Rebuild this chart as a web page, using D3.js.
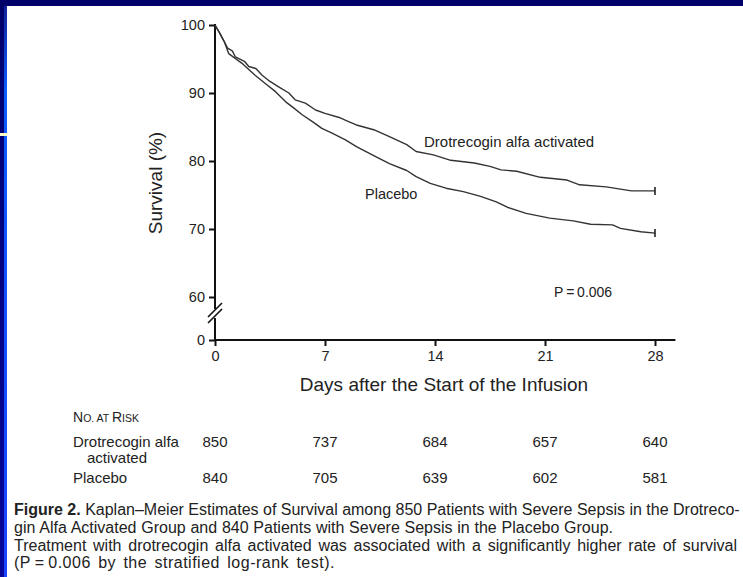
<!DOCTYPE html>
<html>
<head>
<meta charset="utf-8">
<script src="https://cdn.jsdelivr.net/npm/d3@7"></script>
<style>
body{margin:0;background:#fff;}
svg{display:block;font-family:"Liberation Sans",Arial,Helvetica,sans-serif;}
</style>
</head>
<body>
<div class="c-svg"></div>
<script>
//DATA
//-------------------------------------------------------------------------

//drotrecogin alfa activated (day, survival %)
const drotDays = [0, 0.3, 0.6, 0.8, 1.1, 1.3, 1.9, 2.15, 2.6, 3.0, 3.5, 4.05, 4.7, 5.1, 5.75, 6.4, 7.0, 7.9, 8.5, 9.0, 10.1, 11.1, 12.2, 12.8, 13.9, 15.0, 16.5, 17.5, 18.2, 19.2, 20.7, 22.4, 23.2, 24.9, 26.5, 28];
const drotSurv = [100, 98.8, 97.5, 96.6, 96.2, 95.3, 94.6, 93.9, 93.6, 92.6, 91.7, 90.9, 90.0, 89.0, 88.5, 87.5, 87.0, 86.4, 85.8, 85.3, 84.6, 83.6, 82.4, 81.4, 80.9, 80.1, 79.7, 79.2, 78.7, 78.5, 77.6, 77.2, 76.5, 76.2, 75.6, 75.6];

//placebo (day, survival %)
const placDays = [0, 0.3, 0.6, 0.87, 1.7, 2.55, 3.2, 3.85, 4.5, 4.9, 5.55, 6.2, 6.8, 7.45, 8.3, 9.0, 10.1, 11.1, 12.2, 12.8, 13.7, 14.7, 15.8, 16.9, 17.9, 18.6, 19.8, 21.3, 22.8, 23.9, 25.3, 25.8, 27.1, 28];
const placSurv = [100, 98.8, 97.5, 95.8, 94.4, 92.6, 91.4, 90.2, 88.7, 88.0, 86.8, 85.8, 84.8, 84.1, 83.1, 82.1, 80.8, 79.6, 78.6, 77.7, 76.7, 76.0, 75.5, 74.8, 74.0, 73.2, 72.3, 71.6, 71.2, 70.7, 70.6, 70.1, 69.6, 69.4];

//ticks
const xTicks = [0, 7, 14, 21, 28];
const yTicks = [0, 60, 70, 80, 90, 100];

//number at risk
const riskDrot = [850, 737, 684, 657, 640];
const riskPlac = [840, 705, 639, 602, 581];

//caption
const captionBold = "Figure 2.";
const captionLine1 = " Kaplan\u2013Meier Estimates of Survival among 850 Patients with Severe Sepsis in the Drotreco-";
const captionLine2 = "gin Alfa Activated Group and 840 Patients with Severe Sepsis in the Placebo Group.";
const captionLine3 = "Treatment with drotrecogin alfa activated was associated with a significantly higher rate of survival";
const captionLine4 = "(P\u2009=\u20090.006 by the stratified log-rank test).";


//INITIALISATION
//-------------------------------------------------------------------------

const opts = {
	width: 743,
	height: 577
};

const ink = "#222";

const svg = d3.select(".c-svg")
	.append("svg")
	.attr("width", opts.width)
	.attr("height", opts.height);

//slide frame
const defs = svg.append("defs");
const gNavy = defs.append("linearGradient").attr("id", "gNavy").attr("x1", 0).attr("y1", 0).attr("x2", 0).attr("y2", 1);
gNavy.append("stop").attr("offset", 0).attr("stop-color", "#00006a");
gNavy.append("stop").attr("offset", 1).attr("stop-color", "#06069a");
const gBlue = defs.append("linearGradient").attr("id", "gBlue").attr("x1", 0).attr("y1", 0).attr("x2", 0).attr("y2", 1);
gBlue.append("stop").attr("offset", 0).attr("stop-color", "#12229a");
gBlue.append("stop").attr("offset", 0.15).attr("stop-color", "#0c5cff");
gBlue.append("stop").attr("offset", 1).attr("stop-color", "#1a44ff");

svg.append("rect").attr("width", opts.width).attr("height", opts.height).attr("fill", "#fff");
svg.append("rect").attr("width", opts.width).attr("height", 6).attr("fill", "#00006a");
svg.append("rect").attr("width", 4).attr("height", opts.height).attr("fill", "url(#gNavy)");
svg.append("rect").attr("x", 4).attr("y", 6).attr("width", 3).attr("height", opts.height - 6).attr("fill", "url(#gBlue)");
svg.append("rect").attr("y", 133).attr("width", 7).attr("height", 3).attr("fill", "#ffffc8");


//SCALES & AXES
//-------------------------------------------------------------------------

const x = d3.scaleLinear().domain([0, 28]).range([215, 655]);
const y = d3.scaleLinear().domain([0, 60, 100]).range([340, 297, 25]); //broken axis

const g = svg.append("g");

const yAxis = g.append("g")
	.attr("transform", `translate(${x(0)},0)`)
	.call(d3.axisLeft(y).tickValues(yTicks).tickSize(6).tickPadding(4).tickFormat(d3.format("d")));
yAxis.select(".domain").remove();

const xAxis = g.append("g")
	.attr("transform", `translate(0,${y(0)})`)
	.call(d3.axisBottom(x).tickValues(xTicks).tickSize(6).tickPadding(5).tickFormat(d3.format("d")));
xAxis.select(".domain").remove();

g.selectAll(".tick line").attr("stroke", "#111").attr("stroke-width", 2);
g.selectAll(".tick text")
	.attr("fill", ink)
	.style("font-size", "14.5px");

//axis lines with break
const breakY = 313;
g.append("line").attr("x1", x(0)).attr("x2", x(0)).attr("y1", y(100) - 1).attr("y2", breakY - 4)
	.attr("stroke", "#111").attr("stroke-width", 2);
g.append("line").attr("x1", x(0)).attr("x2", x(0)).attr("y1", breakY + 5).attr("y2", y(0) + 1)
	.attr("stroke", "#111").attr("stroke-width", 2);
g.append("line").attr("x1", x(0) - 1).attr("x2", x(29.3)).attr("y1", y(0)).attr("y2", y(0))
	.attr("stroke", "#111").attr("stroke-width", 2);

[-3, 3].forEach(o => {
	g.append("line")
		.attr("x1", x(0) - 7).attr("y1", breakY + o + 7)
		.attr("x2", x(0) + 7).attr("y2", breakY + o - 7)
		.attr("stroke", "#111").attr("stroke-width", 1.6);
});

//axis titles
g.append("text")
	.attr("transform", `translate(162,${(y(100) + y(60)) / 2 + 22}) rotate(-90)`)
	.attr("text-anchor", "middle")
	.attr("fill", ink)
	.style("font-size", "19px")
	.text("Survival (%)");

g.append("text")
	.attr("x", 444)
	.attr("y", 391)
	.attr("text-anchor", "middle")
	.attr("fill", ink)
	.style("font-size", "19px")
	.text("Days after the Start of the Infusion");


//CURVES
//-------------------------------------------------------------------------

const line = d3.line()
	.x(d => x(d[0]))
	.y(d => y(d[1]))
	.curve(d3.curveLinear);

const series = [
	{name: "drot", pts: d3.zip(drotDays, drotSurv)},
	{name: "plac", pts: d3.zip(placDays, placSurv)}
];

g.selectAll(".km")
	.data(series)
	.join("path")
	.attr("class", "km")
	.attr("d", d => line(d.pts))
	.attr("fill", "none")
	.attr("stroke", "#333")
	.attr("stroke-width", 1.4)
	.attr("stroke-linejoin", "round");

//censor marks
g.selectAll(".censor")
	.data(series)
	.join("line")
	.attr("class", "censor")
	.attr("x1", d => x(d.pts[d.pts.length - 1][0]))
	.attr("x2", d => x(d.pts[d.pts.length - 1][0]))
	.attr("y1", d => y(d.pts[d.pts.length - 1][1]) - 4)
	.attr("y2", d => y(d.pts[d.pts.length - 1][1]) + 4)
	.attr("stroke", "#222")
	.attr("stroke-width", 1.6);

//labels
const labels = [
	{t: "Drotrecogin alfa activated", x: 424, y: 147, s: "15px"},
	{t: "Placebo", x: 365, y: 199, s: "14.5px"},
	{t: "P\u2009=\u20090.006", x: 554, y: 297, s: "14px"}
];
g.selectAll(".lab")
	.data(labels)
	.join("text")
	.attr("class", "lab")
	.attr("x", d => d.x)
	.attr("y", d => d.y)
	.attr("fill", ink)
	.style("font-size", d => d.s)
	.text(d => d.t);


//NUMBER AT RISK
//-------------------------------------------------------------------------

const risk = svg.append("g").attr("fill", ink).style("font-size", "15px");

const head = risk.append("text").attr("x", 73).attr("y", 422);
head.append("tspan").style("font-size", "14px").text("N");
head.append("tspan").style("font-size", "10.5px").text("O. AT ");
head.append("tspan").style("font-size", "14px").text("R");
head.append("tspan").style("font-size", "10.5px").text("ISK");

risk.append("text").attr("x", 73).attr("y", 447).text("Drotrecogin alfa");
risk.append("text").attr("x", 87).attr("y", 463).text("activated");
risk.append("text").attr("x", 73).attr("y", 483).text("Placebo");

risk.selectAll(".rd")
	.data(riskDrot)
	.join("text")
	.attr("class", "rd")
	.attr("x", (d, i) => x(xTicks[i]))
	.attr("y", 447)
	.attr("text-anchor", "middle")
	.text(d => d);

risk.selectAll(".rp")
	.data(riskPlac)
	.join("text")
	.attr("class", "rp")
	.attr("x", (d, i) => x(xTicks[i]))
	.attr("y", 483)
	.attr("text-anchor", "middle")
	.text(d => d);


//CAPTION
//-------------------------------------------------------------------------

const cap = svg.append("g").attr("fill", ink).style("font-size", "16px");
const capLeft = 14;

//justify a line: a little letter spacing, the rest between words
function fitLine(sel, right, letter){
	sel.style("letter-spacing", letter + "px");
	const node = sel.node();
	const w = node.getComputedTextLength();
	const spaces = (node.textContent.match(/ /g) || []).length;
	const extra = Math.max(0, (right - capLeft - w) / spaces);
	sel.style("word-spacing", extra + "px");
}

const c1 = cap.append("text").attr("x", capLeft).attr("y", 515);
c1.append("tspan").style("font-weight", "bold").text(captionBold);
c1.append("tspan").text(captionLine1);
fitLine(c1, 737, 0);

const c2 = cap.append("text").attr("x", capLeft).attr("y", 533).text(captionLine2);
fitLine(c2, 613, 0);

const c3 = cap.append("text").attr("x", capLeft).attr("y", 551).text(captionLine3);
fitLine(c3, 737, 0);

const c4 = cap.append("text").attr("x", capLeft).attr("y", 568).text(captionLine4);
fitLine(c4, 335, 0.5);
</script>
</body>
</html>
